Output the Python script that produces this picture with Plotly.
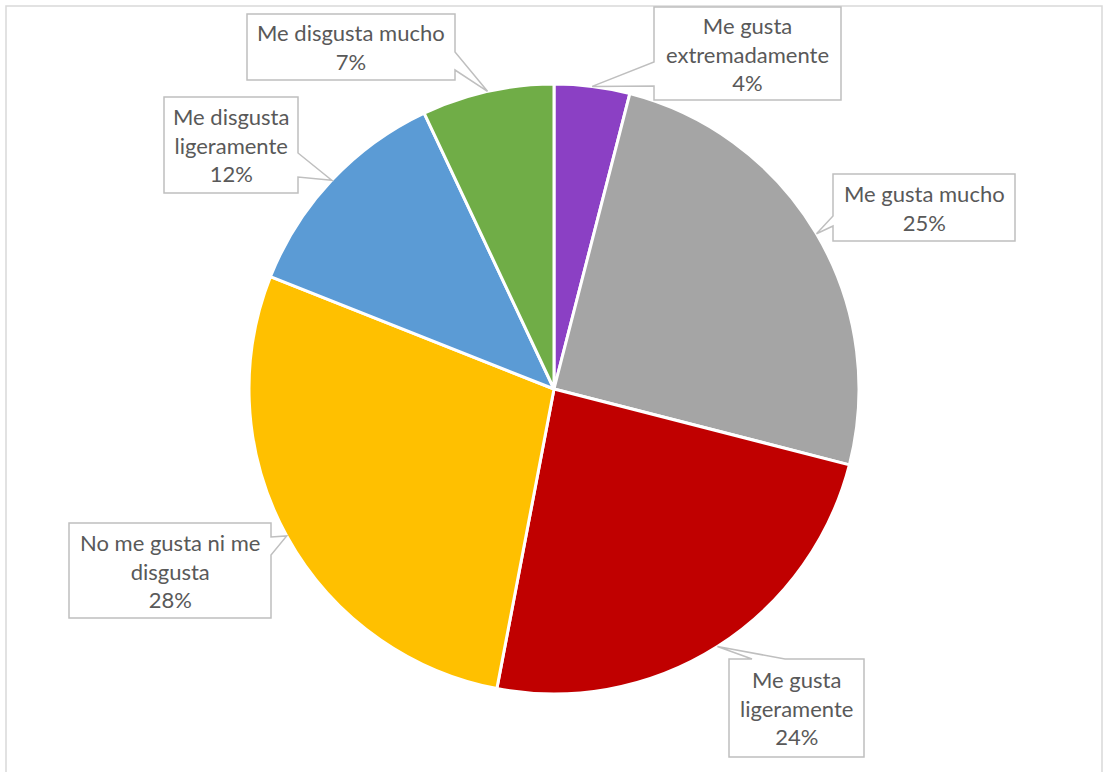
import math
import plotly.graph_objects as go

# Survey results (share of answers, %), clockwise from 12 o'clock
categories = [
    "Me gusta\nextremadamente",
    "Me gusta mucho",
    "Me gusta\nligeramente",
    "No me gusta ni me\ndisgusta",
    "Me disgusta\nligeramente",
    "Me disgusta mucho",
]
values = [4, 25, 24, 28, 12, 7]
colors = ["#8B40C4", "#A5A5A5", "#C00000", "#FFC000", "#5B9BD5", "#70AD47"]

W, H = 1103, 772
CX, CY, R = 554, 389, 305  # pie centre and radius in pixels

# Callout boxes: (left, top, right, bottom, side of pointer, pointer base start, end)
boxes = [
    (654, 7, 841, 100, "left", 62, 86),
    (833, 174, 1015, 241, "left", 216, 226),
    (729, 659, 864, 757, "top", 752, 785),
    (69, 523, 271, 618, "right", 537, 555),
    (164, 97, 298, 193, "right", 153, 177),
    (247, 14, 455, 80, "right", 52, 70),
]

FONT = "Lato"
TEXT_COLOR = "#595959"
LINE_COLOR = "#BFBFBF"

fig = go.Figure()

fig.add_trace(go.Pie(
    labels=[c.replace("\n", " ") for c in categories],
    values=values,
    sort=False,
    direction="clockwise",
    rotation=0,
    marker=dict(colors=colors, line=dict(color="white", width=3)),
    textinfo="none",
    hoverinfo="label+percent",
    showlegend=False,
    domain=dict(x=[(CX - R) / W, (CX + R) / W],
                y=[(H - CY - R) / H, (H - CY + R) / H]),
))

# invisible pixel-space axes used to place the callouts
fig.add_trace(go.Scatter(x=[], y=[], showlegend=False, hoverinfo="skip"))

total = sum(values)
cum = 0.0
shapes = []
annotations = []
for cat, val, box in zip(categories, values, boxes):
    mid = (cum + val / 2) / total * 2 * math.pi
    cum += val
    tx = CX + R * math.sin(mid)
    ty = CY - R * math.cos(mid)
    x0, y0, x1, y1, side, s0, s1 = box
    if side == "left":
        pts = [(x0, y0), (x1, y0), (x1, y1), (x0, y1), (x0, s1), (tx, ty), (x0, s0)]
    elif side == "right":
        pts = [(x0, y0), (x1, y0), (x1, s0), (tx, ty), (x1, s1), (x1, y1), (x0, y1)]
    else:  # top
        pts = [(x0, y0), (s0, y0), (tx, ty), (s1, y0), (x1, y0), (x1, y1), (x0, y1)]
    path = "M " + " L ".join(f"{px:.1f},{py:.1f}" for px, py in pts) + " Z"
    shapes.append(dict(type="path", path=path, xref="x", yref="y",
                       fillcolor="white", line=dict(color=LINE_COLOR, width=1.5),
                       layer="above"))
    pct = round(val / total * 100)
    annotations.append(dict(
        x=(x0 + x1) / 2, y=(y0 + y1) / 2, xref="x", yref="y",
        text=cat.replace("\n", "<br>") + f"<br>{pct}%",
        showarrow=False, align="center", xanchor="center", yanchor="middle",
        font=dict(family=FONT, size=22, color=TEXT_COLOR),
    ))

# chart area frame
shapes.append(dict(type="rect", xref="x", yref="y", x0=6, y0=6, x1=1102, y1=790,
                   line=dict(color="#D9D9D9", width=1.5), fillcolor="rgba(0,0,0,0)",
                   layer="below"))

fig.update_layout(
    width=W, height=H,
    margin=dict(l=0, r=0, t=0, b=0),
    paper_bgcolor="white", plot_bgcolor="white",
    xaxis=dict(range=[0, W], visible=False, fixedrange=True, domain=[0, 1]),
    yaxis=dict(range=[H, 0], visible=False, fixedrange=True, domain=[0, 1]),
    shapes=shapes,
    annotations=annotations,
)

fig.write_html("out.html")
